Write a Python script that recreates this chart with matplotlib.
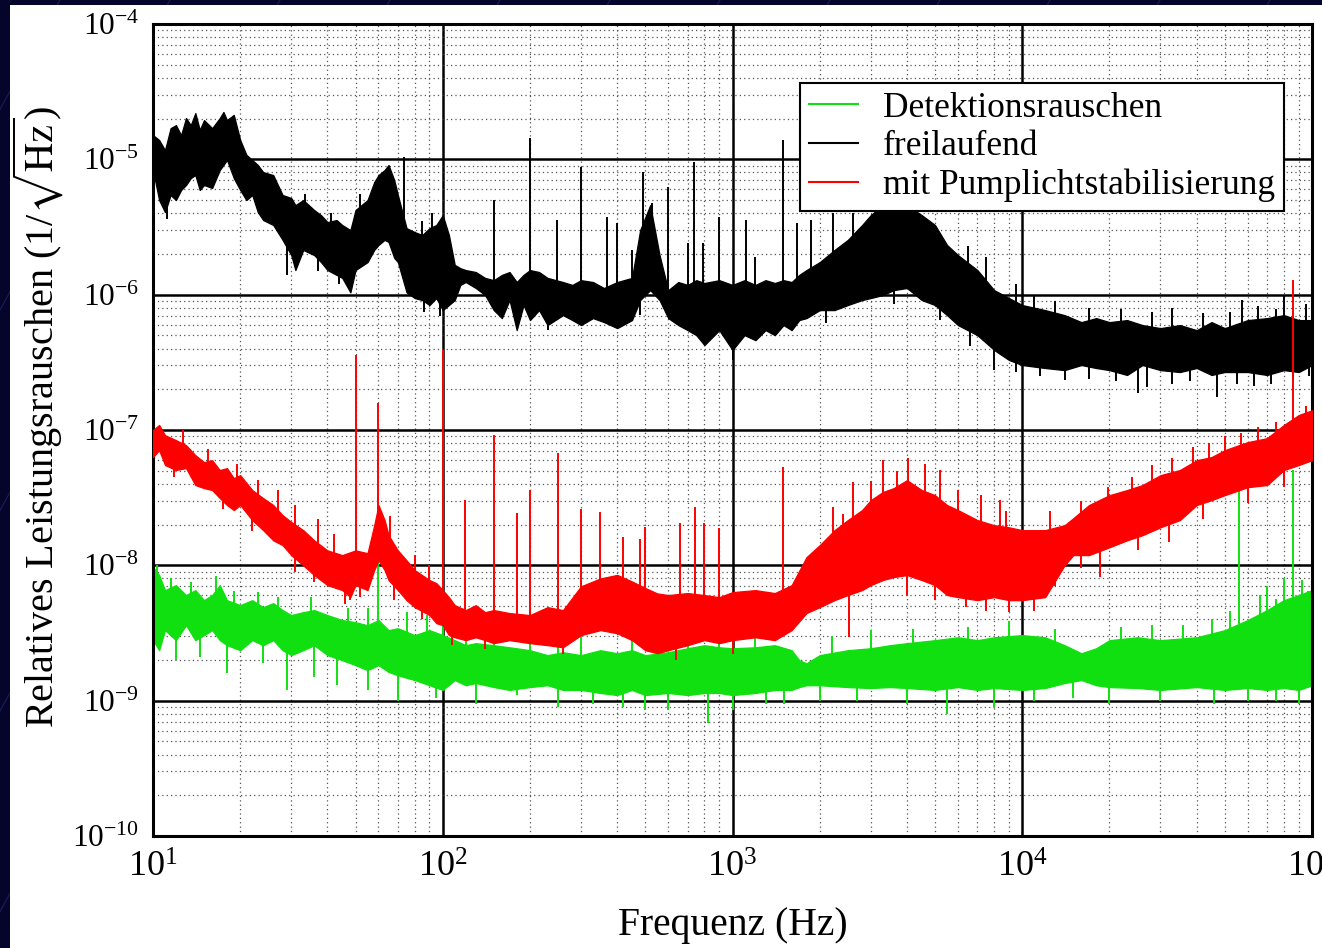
import numpy as np
import matplotlib
matplotlib.use("Agg")
import matplotlib.pyplot as plt
from matplotlib.lines import Line2D
from matplotlib.patches import Rectangle
from matplotlib.ticker import LogLocator, NullFormatter

plt.rcParams['font.family'] = 'serif'
plt.rcParams['font.serif'] = ['Liberation Serif', 'DejaVu Serif']
plt.rcParams['mathtext.fontset'] = 'stix'

# --- data (Hz, 1/sqrt(Hz)) ---
# freilaufend: noise band envelope
bk_f = [10, 10.5, 11, 11.5, 12, 12.5, 13, 13.5, 14, 14.5, 15, 16, 17, 17.5, 18, 19, 20, 21, 22, 23,
        24, 26, 28, 30, 31, 33, 36, 38, 40, 43, 45, 48, 50, 55, 58, 60, 63, 65, 68, 70,
        75, 80, 85, 90, 95, 100, 105, 110, 115, 120, 130, 140, 150, 160, 170, 180, 190, 200, 215, 230,
        260, 280, 300, 330, 360, 400, 450, 480, 520, 560, 600, 650, 700, 750, 800, 900, 1000, 1100, 1200, 1300,
        1400, 1500, 1600, 1700, 1800, 2000, 2250, 2500, 2800, 3000, 3300, 3600, 4000, 4500, 5000, 5500, 6000, 7000, 8000, 9000,
        10000, 12000, 14000, 16000, 18000, 20000, 23000, 26000, 30000, 35000, 40000, 45000, 50000, 60000, 70000, 80000, 90000, 100000]
bk_hi = [1.51e-5, 1.39e-5, 1.17e-5, 1.70e-5, 1.79e-5, 1.51e-5, 2.02e-5, 1.79e-5, 2.2e-5, 1.65e-5, 1.95e-5, 1.70e-5, 2.02e-5, 2.24e-5, 1.95e-5, 2.13e-5, 1.39e-5, 1.08e-5, 9.9e-6, 9.08e-6,
         8.05e-6, 7.65e-6, 5.45e-6, 5.18e-6, 4.59e-6, 5.0e-6, 4.22e-6, 3.87e-6, 3.44e-6, 3.56e-6, 3.27e-6, 3.0e-6, 4.22e-6, 5.0e-6, 6.79e-6, 7.65e-6, 8.34e-6, 9.08e-6, 7.03e-6, 5.45e-6,
         3.10e-6, 2.90e-6, 2.76e-6, 3.10e-6, 3.27e-6, 3.87e-6, 2.76e-6, 1.66e-6, 1.57e-6, 1.52e-6, 1.47e-6, 1.33e-6, 1.28e-6, 1.40e-6, 1.47e-6, 1.24e-6, 1.40e-6, 1.52e-6, 1.47e-6, 1.33e-6,
         1.24e-6, 1.18e-6, 1.28e-6, 1.24e-6, 1.12e-6, 1.24e-6, 1.33e-6, 3.0e-6, 4.59e-6, 1.96e-6, 1.08e-6, 1.24e-6, 1.18e-6, 1.28e-6, 1.22e-6, 1.28e-6, 1.18e-6, 1.28e-6, 1.18e-6, 1.28e-6,
         1.22e-6, 1.28e-6, 1.24e-6, 1.40e-6, 1.52e-6, 1.74e-6, 2.14e-6, 2.54e-6, 3.27e-6, 3.87e-6, 4.59e-6, 5.0e-6, 4.59e-6, 3.87e-6, 3.27e-6, 2.33e-6, 1.96e-6, 1.52e-6, 1.08e-6, 9.44e-7,
         8.38e-7, 7.69e-7, 7.06e-7, 6.27e-7, 6.71e-7, 6.27e-7, 6.49e-7, 5.96e-7, 5.66e-7, 5.96e-7, 5.47e-7, 6.27e-7, 5.66e-7, 6.49e-7, 6.71e-7, 7.06e-7, 6.49e-7, 6.49e-7]
bk_lo = [8.3e-6, 5.0e-6, 4.07e-6, 5.45e-6, 5.0e-6, 5.93e-6, 6.46e-6, 7.27e-6, 7.65e-6, 5.93e-6, 6.46e-6, 6.14e-6, 8.34e-6, 9.08e-6, 9.9e-6, 7.27e-6, 5.93e-6, 5.0e-6, 5.45e-6, 4.07e-6,
         3.56e-6, 3.27e-6, 2.54e-6, 1.96e-6, 1.52e-6, 2.14e-6, 1.96e-6, 1.74e-6, 1.52e-6, 1.40e-6, 1.33e-6, 1.04e-6, 1.52e-6, 1.74e-6, 2.14e-6, 2.33e-6, 2.54e-6, 2.45e-6, 1.87e-6, 1.74e-6,
         1.04e-6, 9.44e-7, 9.12e-7, 8.38e-7, 9.44e-7, 7.69e-7, 8.38e-7, 9.12e-7, 1.18e-6, 1.24e-6, 1.12e-6, 9.93e-7, 7.69e-7, 6.71e-7, 9.12e-7, 5.47e-7, 8.38e-7, 6.49e-7, 7.69e-7, 5.96e-7,
         7.06e-7, 6.49e-7, 5.96e-7, 6.71e-7, 6.27e-7, 5.66e-7, 6.49e-7, 9.12e-7, 1.08e-6, 9.12e-7, 6.71e-7, 5.96e-7, 5.47e-7, 5.02e-7, 4.24e-7, 5.47e-7, 3.9e-7, 5.02e-7, 4.61e-7, 5.47e-7,
         5.02e-7, 5.96e-7, 5.47e-7, 6.49e-7, 6.71e-7, 7.69e-7, 7.69e-7, 8.38e-7, 9.12e-7, 9.44e-7, 9.93e-7, 1.08e-6, 1.12e-6, 9.12e-7, 8.38e-7, 7.06e-7, 5.96e-7, 5.02e-7, 3.9e-7, 3.29e-7,
         3.02e-7, 2.87e-7, 2.77e-7, 3.02e-7, 2.87e-7, 2.77e-7, 2.55e-7, 3.02e-7, 2.77e-7, 2.68e-7, 2.87e-7, 2.55e-7, 2.68e-7, 2.68e-7, 2.55e-7, 2.77e-7, 2.68e-7, 3.02e-7]
bk_peak_f = [26.5, 33.5, 41, 52, 73.5, 85, 92, 150, 200, 248, 300, 368, 400, 450, 490, 527, 600, 700, 737, 790,
             900, 1110, 1200, 1490, 1670, 1860, 2230, 2600, 3300, 3800, 4200, 6500, 7500, 9500, 11000, 13000, 17000, 22000, 28000, 33000,
             42000, 52000, 57400, 65000, 75000, 80000, 95000]
bk_peak_v = [6.5e-6, 5.5e-6, 4.0e-6, 5.5e-6, 1.04e-5, 3.5e-6, 4.0e-6, 5.0e-6, 1.44e-5, 3.56e-6, 8.77e-6, 3.75e-6, 3.38e-6, 2.14e-6, 8.05e-6, 4.75e-6, 6.24e-6, 2.41e-6, 9.55e-6, 2.41e-6,
             3.75e-6, 3.56e-6, 1.90e-6, 1.39e-5, 3.38e-6, 3.56e-6, 4.01e-6, 4.01e-6, 5.93e-6, 6.79e-6, 5.45e-6, 2.3e-6, 1.9e-6, 1.2e-6, 1.0e-6, 9.0e-7, 8.0e-7, 7.8e-7, 7.5e-7, 8.0e-7,
             7.3e-7, 7.5e-7, 9.12e-7, 8.2e-7, 7.8e-7, 1.0e-6, 8.5e-7]
bk_dip_f = [11.2, 29, 37, 44, 86, 98, 230, 480, 1000, 2100, 3600, 5200, 6600, 8000, 9500, 11500, 14000, 17000, 21000, 25000,
            27000, 33000, 38000, 47000, 55000, 63000, 72000, 86000, 98000]
bk_dip_v = [3.6e-6, 1.4e-6, 1.5e-6, 1.2e-6, 7.5e-7, 7.0e-7, 5.47e-7, 7.06e-7, 3.29e-7, 6.2e-7, 8.6e-7, 6.5e-7, 4.2e-7, 2.77e-7, 2.7e-7, 2.5e-7, 2.34e-7, 2.4e-7, 2.3e-7, 1.87e-7,
            2.07e-7, 2.2e-7, 2.3e-7, 1.75e-7, 2.2e-7, 2.1e-7, 2.2e-7, 2.3e-7, 2.5e-7]

# mit Pumplichtstabilisierung
rd_f = [10, 10.5, 11, 12, 13, 14, 15, 16, 17, 18, 19, 20, 22, 24, 26, 28, 30, 33, 36, 40,
        45, 48, 50, 55, 58, 60, 63, 65, 70, 75, 80, 90, 95, 100, 105, 110, 120, 130, 140, 150,
        170, 200, 230, 260, 300, 350, 400, 450, 500, 550, 600, 700, 800, 900, 1000, 1200, 1400, 1600, 1800, 2000,
        2250, 2500, 2800, 3000, 3300, 3600, 4000, 4500, 5000, 5500, 6000, 7000, 8000, 9000, 10000, 12000, 14000, 15000, 17000, 20000,
        23000, 26000, 30000, 35000, 40000, 45000, 50000, 60000, 70000, 80000, 90000, 100000]
rd_hi = [1.0e-7, 1.09e-7, 9.16e-8, 8.42e-8, 7.73e-8, 6.52e-8, 5.79e-8, 5.98e-8, 5.06e-8, 5.23e-8, 4.41e-8, 4.64e-8, 3.60e-8, 3.14e-8, 2.79e-8, 2.35e-8, 2.09e-8, 1.82e-8, 1.53e-8, 1.29e-8,
         1.19e-8, 1.25e-8, 1.29e-8, 1.23e-8, 1.98e-8, 2.79e-8, 2.16e-8, 1.67e-8, 1.29e-8, 1.09e-8, 9.22e-9, 7.78e-9, 7.39e-9, 6.56e-9, 5.82e-9, 5.08e-9, 4.67e-9, 5.08e-9, 4.51e-9, 4.67e-9,
         4.44e-9, 4.29e-9, 4.91e-9, 4.67e-9, 7.0e-9, 8.0e-9, 8.5e-9, 7.6e-9, 6.8e-9, 6.2e-9, 6.03e-9, 6.24e-9, 6.03e-9, 5.82e-9, 6.34e-9, 6.56e-9, 6.24e-9, 7.14e-9, 1.15e-8, 1.41e-8,
         1.82e-8, 2.16e-8, 2.56e-8, 3.03e-8, 3.48e-8, 3.72e-8, 4.26e-8, 3.60e-8, 3.30e-8, 2.79e-8, 2.56e-8, 2.16e-8, 1.98e-8, 1.91e-8, 1.82e-8, 1.82e-8, 1.98e-8, 2.23e-8, 2.79e-8, 3.30e-8,
         3.60e-8, 3.92e-8, 4.64e-8, 5.06e-8, 5.98e-8, 6.31e-8, 7.10e-8, 8.14e-8, 8.71e-8, 1.09e-7, 1.29e-7, 1.40e-7]
rd_lo = [6.31e-8, 7.10e-8, 5.51e-8, 5.06e-8, 5.23e-8, 3.92e-8, 3.72e-8, 3.60e-8, 3.14e-8, 2.79e-8, 2.56e-8, 2.79e-8, 2.16e-8, 1.82e-8, 1.53e-8, 1.41e-8, 1.19e-8, 1.00e-8, 8.47e-9, 7.14e-9,
         6.56e-9, 5.82e-9, 7.14e-9, 6.56e-9, 9.22e-9, 1.09e-8, 9.22e-9, 7.78e-9, 6.56e-9, 5.53e-9, 4.91e-9, 4.29e-9, 3.74e-9, 3.61e-9, 3.05e-9, 2.94e-9, 2.80e-9, 2.94e-9, 2.80e-9, 2.66e-9,
         2.80e-9, 2.66e-9, 2.57e-9, 2.48e-9, 3.05e-9, 3.32e-9, 3.15e-9, 2.80e-9, 2.36e-9, 2.24e-9, 2.36e-9, 2.57e-9, 2.80e-9, 2.66e-9, 2.80e-9, 2.94e-9, 2.80e-9, 3.32e-9, 4.44e-9, 4.91e-9,
         5.53e-9, 6.03e-9, 6.56e-9, 7.14e-9, 7.78e-9, 8.19e-9, 8.47e-9, 7.78e-9, 7.14e-9, 6.03e-9, 5.82e-9, 5.53e-9, 5.82e-9, 5.53e-9, 5.53e-9, 5.82e-9, 1.00e-8, 1.19e-8, 1.19e-8, 1.36e-8,
         1.53e-8, 1.67e-8, 1.91e-8, 2.16e-8, 2.79e-8, 3.03e-8, 3.30e-8, 3.78e-8, 3.92e-8, 5.06e-8, 5.51e-8, 5.98e-8]
rd_peak_f = [12.7, 15.5, 19.5, 23, 27, 31, 37, 42, 50, 60, 66, 80, 90, 100, 119, 150, 180, 200, 250, 300,
             350, 420, 480, 500, 659, 740, 800, 900, 1490, 2220, 2400, 2610, 3000, 3310, 3700, 4040, 4600, 5200, 6000, 7200,
             8400, 8800, 12500, 16000, 19800, 24000, 28000, 33000, 38900, 44000, 50000, 57000, 65000, 75000, 86100, 95000]
rd_peak_v = [1.0e-7, 7.2e-8, 5.6e-8, 4.3e-8, 3.6e-8, 2.8e-8, 2.2e-8, 1.7e-8, 3.58e-7, 1.58e-7, 2.3e-8, 1.2e-8, 1.0e-8, 3.9e-7, 3.03e-8, 9.16e-8, 2.43e-8, 3.60e-8, 6.75e-8, 2.6e-8,
             2.47e-8, 1.61e-8, 1.57e-8, 1.91e-8, 2.05e-8, 2.69e-8, 2.05e-8, 1.9e-8, 5.32e-8, 2.69e-8, 2.4e-8, 4.12e-8, 4.2e-8, 5.98e-8, 5.0e-8, 6.19e-8, 5.6e-8, 5.06e-8, 3.6e-8, 3.3e-8,
             3.03e-8, 2.5e-8, 2.5e-8, 3.0e-8, 3.78e-8, 4.5e-8, 5.5e-8, 6.2e-8, 7.48e-8, 8.0e-8, 9.0e-8, 9.48e-8, 1.05e-7, 1.15e-7, 1.28e-6, 1.5e-7]
rd_dip_f = [11.8, 17.5, 22, 31, 36, 46, 48, 52, 68, 85, 108, 140, 260, 640, 1000, 2530, 4000, 5000, 6400, 7500,
            9000, 11000, 13000, 16000, 18600, 25000, 32000, 42000, 60000, 80000]
rd_dip_v = [4.5e-8, 2.6e-8, 1.8e-8, 9.0e-9, 7.5e-9, 5.2e-9, 5.5e-9, 5.8e-9, 5.5e-9, 4.0e-9, 2.6e-9, 2.4e-9, 2.2e-9, 2.0e-9, 2.2e-9, 2.94e-9, 6.0e-9, 5.5e-9, 4.9e-9, 4.6e-9,
            4.5e-9, 4.6e-9, 7.0e-9, 9.5e-9, 8.19e-9, 1.3e-8, 1.5e-8, 2.2e-8, 2.9e-8, 3.8e-8]

# Detektionsrauschen
gr_f = [10, 10.5, 11, 12, 13, 14, 15, 16, 17, 18, 20, 22, 24, 26, 28, 30, 33, 36, 40, 45,
        50, 55, 60, 65, 70, 80, 90, 100, 110, 120, 130, 150, 170, 200, 230, 260, 300, 350, 400, 450,
        500, 600, 700, 800, 900, 1000, 1200, 1400, 1600, 1700, 1800, 2000, 2500, 3000, 3500, 4000, 5000, 6000, 7000, 8000,
        10000, 12000, 14000, 16000, 18000, 20000, 25000, 30000, 40000, 50000, 60000, 70000, 80000, 90000, 100000]
gr_hi = [9.70e-9, 8.47e-9, 6.56e-9, 7.14e-9, 6.03e-9, 6.56e-9, 5.53e-9, 6.03e-9, 7.14e-9, 5.53e-9, 5.08e-9, 5.53e-9, 4.91e-9, 5.26e-9, 4.67e-9, 4.29e-9, 4.51e-9, 4.67e-9, 4.29e-9, 3.94e-9,
         3.80e-9, 3.61e-9, 3.94e-9, 3.32e-9, 3.43e-9, 3.05e-9, 3.32e-9, 3.05e-9, 2.80e-9, 2.57e-9, 2.66e-9, 2.57e-9, 2.48e-9, 2.36e-9, 2.17e-9, 2.28e-9, 2.17e-9, 2.36e-9, 2.24e-9, 2.36e-9,
         2.17e-9, 2.28e-9, 2.44e-9, 2.57e-9, 2.48e-9, 2.44e-9, 2.48e-9, 2.57e-9, 2.36e-9, 1.99e-9, 1.89e-9, 2.17e-9, 2.36e-9, 2.44e-9, 2.57e-9, 2.66e-9, 2.80e-9, 2.94e-9, 2.80e-9, 2.94e-9,
         3.05e-9, 2.94e-9, 2.57e-9, 2.24e-9, 2.44e-9, 2.80e-9, 2.94e-9, 2.80e-9, 2.94e-9, 3.32e-9, 3.94e-9, 4.67e-9, 5.53e-9, 6.03e-9, 6.56e-9]
gr_lo = [2.80e-9, 2.36e-9, 3.32e-9, 2.80e-9, 3.61e-9, 2.80e-9, 3.05e-9, 3.32e-9, 2.80e-9, 2.57e-9, 2.36e-9, 2.80e-9, 2.57e-9, 2.80e-9, 2.36e-9, 2.17e-9, 2.36e-9, 2.57e-9, 2.17e-9, 1.99e-9,
         1.83e-9, 1.68e-9, 1.83e-9, 1.63e-9, 1.54e-9, 1.42e-9, 1.30e-9, 1.20e-9, 1.42e-9, 1.30e-9, 1.35e-9, 1.26e-9, 1.20e-9, 1.26e-9, 1.30e-9, 1.20e-9, 1.20e-9, 1.14e-9, 1.10e-9, 1.20e-9,
         1.10e-9, 1.14e-9, 1.10e-9, 1.14e-9, 1.14e-9, 1.10e-9, 1.14e-9, 1.20e-9, 1.20e-9, 1.26e-9, 1.30e-9, 1.30e-9, 1.26e-9, 1.24e-9, 1.26e-9, 1.24e-9, 1.20e-9, 1.26e-9, 1.20e-9, 1.24e-9,
         1.20e-9, 1.24e-9, 1.35e-9, 1.42e-9, 1.30e-9, 1.26e-9, 1.24e-9, 1.20e-9, 1.26e-9, 1.20e-9, 1.24e-9, 1.20e-9, 1.24e-9, 1.20e-9, 1.30e-9]
gr_peak_f = [10.3, 11.5, 13.5, 16.5, 19, 23, 27, 35, 47, 55, 60, 75, 88, 100, 120, 150, 200, 250, 300, 450,
             700, 900, 1200, 2200, 3000, 4200, 6500, 9000, 13000, 22000, 28000, 36000, 45000, 52000, 56000, 66000, 70000, 75000, 80000, 86100,
             92000, 97000]
gr_peak_v = [1.0e-8, 8.0e-9, 7.5e-9, 8.3e-9, 6.5e-9, 6.3e-9, 5.8e-9, 5.8e-9, 4.8e-9, 4.8e-9, 1.29e-8, 4.5e-9, 4.3e-9, 3.29e-7, 3.6e-9, 1.04e-8, 3.3e-9, 5.5e-9, 3.4e-9, 3.3e-9,
             3.2e-9, 3.2e-9, 3.2e-9, 3.0e-9, 3.3e-9, 3.4e-9, 3.5e-9, 3.9e-9, 3.4e-9, 3.5e-9, 3.6e-9, 3.6e-9, 4.0e-9, 4.6e-9, 4.06e-8, 6.0e-9, 7.0e-9, 5.6e-9, 8.0e-9, 5.06e-8,
             7.8e-9, 6.5e-9]
gr_dip_f = [12, 14.5, 18, 24, 29, 36, 43, 55, 70, 95, 130, 180, 250, 330, 420, 500, 600, 820, 1000, 1300,
            1500, 2000, 2700, 4000, 5500, 8000, 11000, 15000, 20000, 30000, 46000, 60000, 75000, 90000]
gr_dip_v = [2.0e-9, 2.1e-9, 1.6e-9, 1.9e-9, 1.2e-9, 1.5e-9, 1.3e-9, 1.2e-9, 1.0e-9, 1.05e-9, 9.5e-10, 1.1e-9, 9.0e-10, 9.5e-10, 9.0e-10, 8.5e-10, 8.5e-10, 6.8e-10, 8.5e-10, 9.5e-10,
            9.5e-10, 1.0e-9, 1.0e-9, 9.5e-10, 8.0e-10, 9.0e-10, 1.0e-9, 1.05e-9, 9.5e-10, 1.0e-9, 9.5e-10, 1.0e-9, 1.0e-9, 9.5e-10]

labels = ["Detektionsrauschen", "freilaufend", "mit Pumplichtstabilisierung"]
colors = ["#10e010", "black", "#ff0000"]

x_ticks = [1e1, 1e2, 1e3, 1e4, 1e5]
x_ticklabels = [r"$\mathregular{10^{1}}$", r"$\mathregular{10^{2}}$", r"$\mathregular{10^{3}}$",
                r"$\mathregular{10^{4}}$", r"$\mathregular{10^{5}}$"]
y_ticks = [1e-10, 1e-9, 1e-8, 1e-7, 1e-6, 1e-5, 1e-4]
y_ticklabels = [r"$\mathregular{10^{-10}}$", r"$\mathregular{10^{-9}}$", r"$\mathregular{10^{-8}}$",
                r"$\mathregular{10^{-7}}$", r"$\mathregular{10^{-6}}$", r"$\mathregular{10^{-5}}$",
                r"$\mathregular{10^{-4}}$"]

W, H = 1322, 948
fig = plt.figure(figsize=(W / 100, H / 100), dpi=100, facecolor="#05052c")

# slide background: faint diagonal lines, then the white sheet
for x0 in range(-900, 1400, 110):
    fig.add_artist(Line2D([x0 / W, (x0 + 520) / W], [0, 1], transform=fig.transFigure,
                          color="#1c1c5a", lw=0.8, zorder=-3))
fig.add_artist(Rectangle((10 / W, 0), 1 - 10 / W, 1 - 5 / H, transform=fig.transFigure,
                         facecolor="white", edgecolor="none", zorder=-2))

ax = fig.add_axes([153 / W, 112 / H, 1159 / W, 812 / H])
ax.set_xscale("log")
ax.set_yscale("log")
ax.set_xlim(10, 1e5)
ax.set_ylim(1e-10, 1e-4)


def draw_trace(f, hi, lo, pk_f, pk_v, dp_f, dp_v, color, z):
    f = np.asarray(f, float)
    hi = np.asarray(hi, float)
    lo = np.asarray(lo, float)
    ax.fill_between(f, lo, hi, facecolor=color, edgecolor=color, lw=0.9, zorder=z)
    mid = np.sqrt(hi * lo)
    for sf, sv in ((pk_f, pk_v), (dp_f, dp_v)):
        sf = np.asarray(sf, float)
        base = 10 ** np.interp(np.log10(sf), np.log10(f), np.log10(mid))
        ax.vlines(sf, base, sv, color=color, lw=1.4, zorder=z)


draw_trace(gr_f, gr_hi, gr_lo, gr_peak_f, gr_peak_v, gr_dip_f, gr_dip_v, colors[0], 2)
draw_trace(bk_f, bk_hi, bk_lo, bk_peak_f, bk_peak_v, bk_dip_f, bk_dip_v, colors[1], 3)
draw_trace(rd_f, rd_hi, rd_lo, rd_peak_f, rd_peak_v, rd_dip_f, rd_dip_v, colors[2], 4)

# grid
ax.set_axisbelow(True)
ax.xaxis.set_minor_locator(LogLocator(base=10, subs=np.arange(2, 10), numticks=20))
ax.yaxis.set_minor_locator(LogLocator(base=10, subs=np.arange(2, 10), numticks=20))
ax.xaxis.set_minor_formatter(NullFormatter())
ax.yaxis.set_minor_formatter(NullFormatter())
ax.grid(True, which="major", color="black", lw=1.8, ls="-")
ax.grid(True, which="minor", color="#555555", lw=0.9, ls=(0, (1, 2.5)))

ax.set_xticks(x_ticks)
ax.set_xticklabels(x_ticklabels, fontsize=26)
ax.set_yticks(y_ticks)
ax.set_yticklabels(y_ticklabels, fontsize=22.5)
ax.tick_params(which="both", length=0)
ax.tick_params(axis="x", pad=11)
ax.tick_params(axis="y", pad=10)
for sp in ax.spines.values():
    sp.set_linewidth(2.2)

fig.text(733 / W, 1 - 925 / H, "Frequenz (Hz)", ha="center", va="center", fontsize=28.5)
fig.text(38 / W, 1 - 417 / H, r"Relatives Leistungsrauschen (1/$\sqrt{\mathrm{Hz}}$)",
         ha="center", va="center", rotation=90, fontsize=29)

handles = [Line2D([], [], color=c, lw=1.5) for c in colors]
leg = ax.legend(handles, labels, loc="upper left", bbox_to_anchor=(800 / W, 1 - 83 / H),
                bbox_transform=fig.transFigure, borderaxespad=0, fontsize=25.5,
                frameon=True, fancybox=False, framealpha=1, edgecolor="black",
                handlelength=1.4, handletextpad=0.7, labelspacing=0.15, borderpad=0.25)
leg.get_frame().set_linewidth(1.5)
leg.set_zorder(10)

fig.savefig("out.png", dpi=100, facecolor=fig.get_facecolor())
